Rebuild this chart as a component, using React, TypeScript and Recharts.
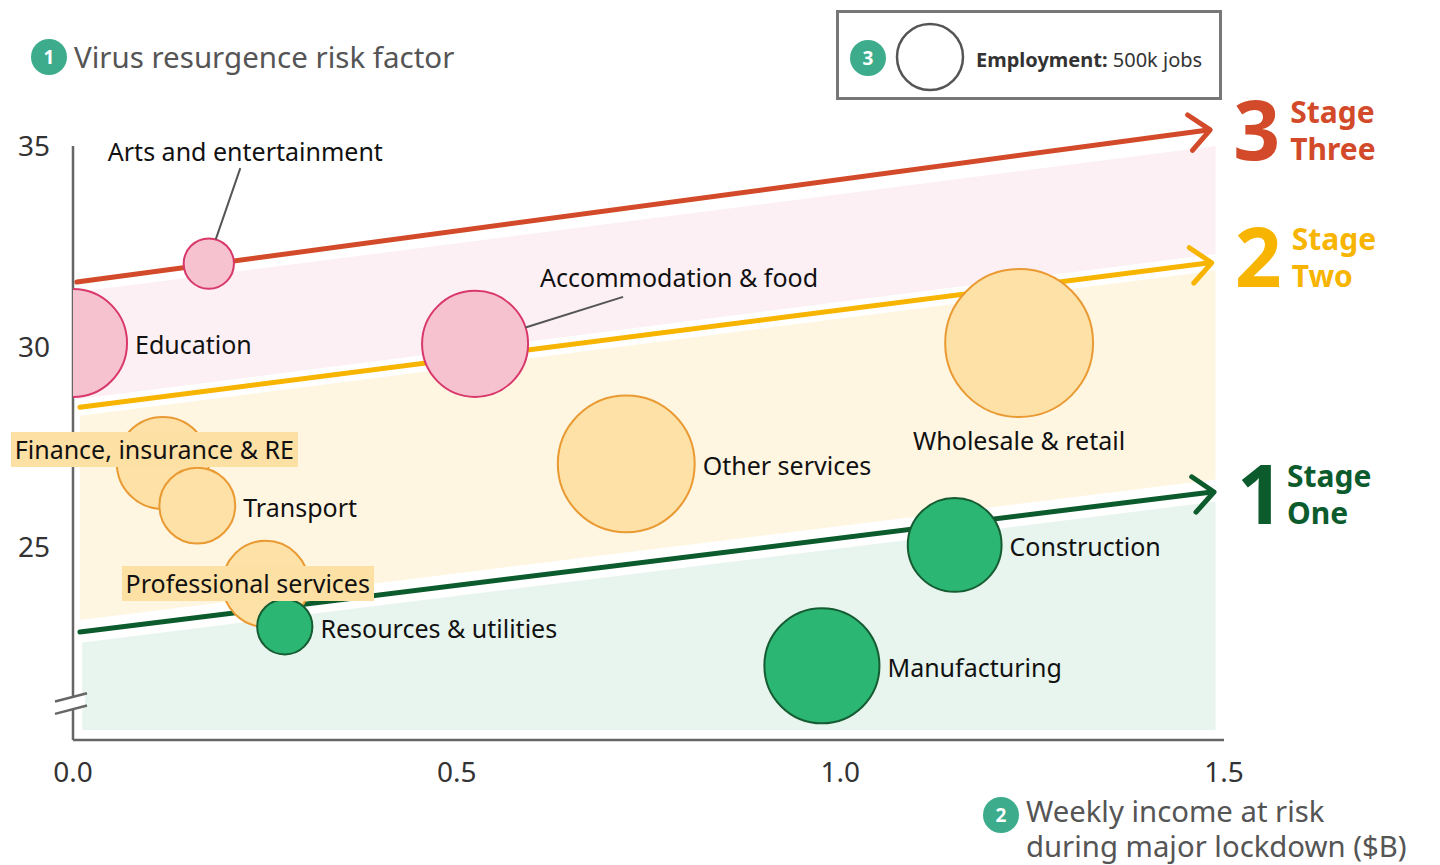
import React from 'react';
import {
  ComposedChart,
  Scatter,
  XAxis,
  YAxis,
  ZAxis,
  Area,
  ReferenceLine,
  ReferenceDot,
} from 'recharts';

const FONT = "'Noto Sans', 'Open Sans', sans-serif";

// ---- data: x = weekly income at risk ($B), y = virus resurgence risk factor, z = employment ('000 jobs)
const stageThreeSectors = [
  { name: 'Arts and entertainment', x: 0.177, y: 32.07, z: 290 },
  { name: 'Education', x: 0.0, y: 30.09, z: 1340 },
  { name: 'Accommodation & food', x: 0.524, y: 30.07, z: 1290 },
];
const stageTwoSectors = [
  { name: 'Finance, insurance & RE', x: 0.117, y: 27.1, z: 970 },
  { name: 'Transport', x: 0.162, y: 26.04, z: 660 },
  { name: 'Professional services', x: 0.251, y: 24.09, z: 850 },
  { name: 'Other services', x: 0.721, y: 27.08, z: 2150 },
  { name: 'Wholesale & retail', x: 1.233, y: 30.09, z: 2510 },
];
const stageOneSectors = [
  { name: 'Resources & utilities', x: 0.276, y: 23.02, z: 350 },
  { name: 'Construction', x: 1.149, y: 25.06, z: 1010 },
  { name: 'Manufacturing', x: 0.976, y: 22.05, z: 1520 },
];
const allSectors = [...stageThreeSectors, ...stageTwoSectors, ...stageOneSectors];

const xTicks = [0, 0.5, 1.0, 1.5];
const yTicks = [25, 30, 35];

// stage threshold lines (arrows)
const stageThreeLine = [{ x: 0.005, y: 31.61 }, { x: 1.482, y: 35.4 }];
const stageTwoLine = [{ x: 0.009, y: 28.49 }, { x: 1.484, y: 32.09 }];
const stageOneLine = [{ x: 0.009, y: 22.89 }, { x: 1.487, y: 26.38 }];

// shaded stage bands [low, high]
const bandThree = [{ x: 0.005, band: [28.69, 31.36] }, { x: 1.489, band: [32.31, 35.0] }];
const bandTwo = [{ x: 0.009, band: [23.19, 28.28] }, { x: 1.489, band: [26.69, 31.9] }];
const bandOne = [{ x: 0.012, band: [20.45, 22.63] }, { x: 1.489, band: [20.45, 26.14] }];

const axisBreak = { x: 0, y: 21.1 };
const legendJobs = 500;

// ---- styles
const Z_DOMAIN_MAX = 3000;
const RADIUS_PER_SQRT_JOB = 1.476;
const zRange = [0, Math.PI * RADIUS_PER_SQRT_JOB * RADIUS_PER_SQRT_JOB * Z_DOMAIN_MAX];
const legendRadius = Math.sqrt((legendJobs / Z_DOMAIN_MAX) * zRange[1] / Math.PI);

const BADGE = '#3dac8c';
const RED = '#d24a29';
const ORANGE = '#f7b400';
const DKGREEN = '#0b5b2d';
const LABEL_SIZE = 25;

type LabelSpec = {
  mode: 'right' | 'below' | 'leader' | 'box';
  tx?: number;
  ty?: number;
  lx?: number;
  ly?: number;
  angle?: number;
};

const labelLayout: Record<string, LabelSpec> = {
  'Arts and entertainment': { mode: 'leader', tx: -101, ty: -103, lx: 31.5, ly: -95.5, angle: -74 },
  'Accommodation & food': { mode: 'leader', tx: 65, ty: -57, lx: 148, ly: -47, angle: -18 },
  Education: { mode: 'right' },
  'Finance, insurance & RE': { mode: 'box', tx: -148, ty: -4 },
  Transport: { mode: 'right' },
  'Professional services': { mode: 'box', tx: -140, ty: 9 },
  'Other services': { mode: 'right' },
  'Wholesale & retail': { mode: 'below' },
  'Resources & utilities': { mode: 'right' },
  Construction: { mode: 'right' },
  Manufacturing: { mode: 'right' },
};

const renderSectorLabel = (props: any) => {
  const { cx, cy, width, payload } = props;
  if (cx == null || cy == null || !payload) return <g />;
  const r = (width || 0) / 2;
  const spec = labelLayout[payload.name] || { mode: 'right' };
  const textStyle = { fontFamily: FONT, fontSize: LABEL_SIZE, fill: '#111' } as const;
  if (spec.mode === 'right') {
    return (
      <text x={cx + r + 8} y={cy + 11} {...textStyle}>
        {payload.name}
      </text>
    );
  }
  if (spec.mode === 'below') {
    return (
      <text x={cx} y={cy + r + 33} textAnchor="middle" {...textStyle}>
        {payload.name}
      </text>
    );
  }
  if (spec.mode === 'leader') {
    const a = ((spec.angle || 0) * Math.PI) / 180;
    return (
      <g>
        <line
          x1={cx + (spec.lx || 0)}
          y1={cy + (spec.ly || 0)}
          x2={cx + r * Math.cos(a)}
          y2={cy + r * Math.sin(a)}
          stroke="#555"
          strokeWidth={2}
        />
        <text x={cx + (spec.tx || 0)} y={cy + (spec.ty || 0)} {...textStyle}>
          {payload.name}
        </text>
      </g>
    );
  }
  // box
  const bx = cx + (spec.tx || 0) - 4;
  const by = cy + (spec.ty || 0) - 27;
  return (
    <foreignObject x={bx} y={by} width={420} height={40}>
      <div style={{ lineHeight: '35px', height: 35 }}>
        <span
          style={{
            display: 'inline-block',
            background: '#fde0a4',
            padding: '0 4px',
            fontFamily: FONT,
            fontSize: LABEL_SIZE,
            lineHeight: '35px',
            color: '#111',
            whiteSpace: 'nowrap',
          }}
        >
          {payload.name}
        </span>
      </div>
    </foreignObject>
  );
};

const makeStageShape = (color: string, digit: string, word: string, dy: number, textGap: number) => (props: any) => {
  const { x1, y1, x2, y2 } = props;
  if ([x1, y1, x2, y2].some((v) => v == null || Number.isNaN(v))) return <g />;
  const ang = Math.atan2(y2 - y1, x2 - x1);
  const L = 27;
  const s = 0.72;
  const ax1 = x2 - L * Math.cos(ang - s);
  const ay1 = y2 - L * Math.sin(ang - s);
  const ax2 = x2 - L * Math.cos(ang + s);
  const ay2 = y2 - L * Math.sin(ang + s);
  const dx = x2 + 23;
  const base = y2 + dy;
  return (
    <g>
      <line x1={x1} y1={y1} x2={x2 - 2} y2={y2} stroke={color} strokeWidth={5} strokeLinecap="round" />
      <polyline
        points={`${ax1},${ay1} ${x2},${y2} ${ax2},${ay2}`}
        fill="none"
        stroke={color}
        strokeWidth={5}
        strokeLinecap="round"
        strokeLinejoin="round"
      />
      <text x={dx} y={base} fontFamily={FONT} fontSize={82} fontWeight={700} fill={color}>
        {digit}
      </text>
      <text x={dx + textGap} y={base - 37} fontFamily={FONT} fontSize={30} fontWeight={700} fill={color}>
        Stage
      </text>
      <text x={dx + textGap} y={base} fontFamily={FONT} fontSize={30} fontWeight={700} fill={color}>
        {word}
      </text>
    </g>
  );
};

const renderAxisBreak = (props: any) => {
  const { cx, cy } = props;
  if (cx == null || cy == null) return <g />;
  return (
    <g>
      <polygon
        points={`${cx - 14},${cy - 3} ${cx + 12},${cy - 10} ${cx + 12},${cy + 2} ${cx - 14},${cy + 9}`}
        fill="#fff"
      />
      <line x1={cx - 18} y1={cy - 2.3} x2={cx + 14} y2={cy - 10.7} stroke="#666" strokeWidth={2.5} />
      <line x1={cx - 18} y1={cy + 10} x2={cx + 14} y2={cy + 1.7} stroke="#666" strokeWidth={2.5} />
    </g>
  );
};

const Badge = ({ cx, cy, n }: { cx: number; cy: number; n: string }) => (
  <g>
    <circle cx={cx} cy={cy} r={18} fill={BADGE} />
    <text x={cx} y={cy + 7} textAnchor="middle" fontFamily={FONT} fontSize={19} fontWeight={700} fill="#fff">
      {n}
    </text>
  </g>
);

export default function App() {
  return (
    <div style={{ position: 'absolute', left: 0, top: 0, width: 1440, height: 865, background: '#fff' }}>
      <ComposedChart width={1440} height={865} margin={{ top: 146, right: 216, bottom: 0, left: 0 }}>
        <XAxis
          type="number"
          dataKey="x"
          domain={[0, 1.5]}
          ticks={xTicks}
          allowDataOverflow
          height={125}
          tickSize={0}
          tickMargin={22}
          tickLine={false}
          tickFormatter={(v: number) => v.toFixed(1)}
          axisLine={{ stroke: '#666', strokeWidth: 2.5 }}
          tick={{ fontFamily: FONT, fontSize: 28, fill: '#333' }}
        />
        <XAxis xAxisId="lab" type="number" dataKey="x" domain={[0, 1.5]} hide />
        <YAxis
          type="number"
          dataKey="y"
          domain={[20.2, 35]}
          ticks={yTicks}
          width={73}
          tickSize={0}
          tickMargin={23}
          tickLine={false}
          axisLine={{ stroke: '#666', strokeWidth: 2.5 }}
          tick={{ fontFamily: FONT, fontSize: 28, fill: '#333' }}
        />
        <ZAxis type="number" dataKey="z" domain={[0, Z_DOMAIN_MAX]} range={zRange} />

        <Area data={bandOne} dataKey="band" type="linear" stroke="none" fill="#e8f5ee" fillOpacity={1} isAnimationActive={false} />
        <Area data={bandTwo} dataKey="band" type="linear" stroke="none" fill="#fff6e2" fillOpacity={1} isAnimationActive={false} />
        <Area data={bandThree} dataKey="band" type="linear" stroke="none" fill="#fdf0f4" fillOpacity={1} isAnimationActive={false} />

        <ReferenceLine
          segment={stageThreeLine}
          ifOverflow="visible"
          shape={makeStageShape(RED, '3', 'Three', 30, 57)}
        />
        <ReferenceLine
          segment={stageTwoLine}
          ifOverflow="visible"
          shape={makeStageShape(ORANGE, '2', 'Two', 24, 57)}
        />
        <ReferenceLine
          segment={stageOneLine}
          ifOverflow="visible"
          shape={makeStageShape(DKGREEN, '1', 'One', 32, 50)}
        />

        <ReferenceDot x={axisBreak.x} y={axisBreak.y} ifOverflow="visible" shape={renderAxisBreak} />

        <Scatter data={stageThreeSectors} fill="#f6c2d0" stroke="#d9386b" strokeWidth={2} isAnimationActive={false} />
        <Scatter data={stageTwoSectors} fill="#fde1a6" stroke="#ea9a33" strokeWidth={2} isAnimationActive={false} />
        <Scatter data={stageOneSectors} fill="#2bb673" stroke="#165c33" strokeWidth={2} isAnimationActive={false} />
        <Scatter data={allSectors} xAxisId="lab" shape={renderSectorLabel} isAnimationActive={false} />
      </ComposedChart>

      <svg
        width={1440}
        height={865}
        style={{ position: 'absolute', left: 0, top: 0, pointerEvents: 'none' }}
      >
        <Badge cx={49} cy={57} n="1" />
        <text x={74} y={68} fontFamily={FONT} fontSize={29.5} fill="#555">
          Virus resurgence risk factor
        </text>

        <Badge cx={1001} cy={815} n="2" />
        <text x={1026} y={822} fontFamily={FONT} fontSize={29.3} fill="#555">
          Weekly income at risk
        </text>
        <text x={1026} y={857} fontFamily={FONT} fontSize={29.3} fill="#555">
          during major lockdown ($B)
        </text>

        <rect x={837.5} y={11.5} width={383} height={87} fill="#fff" stroke="#777" strokeWidth={3} />
        <Badge cx={868} cy={58} n="3" />
        <circle cx={930} cy={57} r={legendRadius} fill="#fff" stroke="#555" strokeWidth={2.5} />
        <text x={976} y={67} fontFamily={FONT} fontSize={20} fill="#333">
          <tspan fontWeight={700}>Employment:</tspan>
          <tspan> {legendJobs}k jobs</tspan>
        </text>
      </svg>
    </div>
  );
}
